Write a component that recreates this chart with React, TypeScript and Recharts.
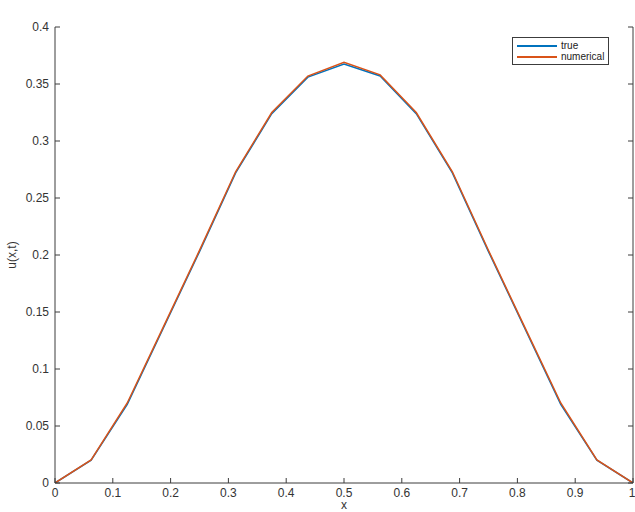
import React from "react";
import { LineChart, Line, XAxis, YAxis } from "recharts";

// grid points x = k/16, k = 0..16
const xs = [
  0, 0.0625, 0.125, 0.1875, 0.25, 0.3125, 0.375, 0.4375, 0.5, 0.5625, 0.625,
  0.6875, 0.75, 0.8125, 0.875, 0.9375, 1,
];
const trueU = [
  0, 0.02, 0.069, 0.136, 0.203, 0.272, 0.324, 0.356, 0.3675, 0.357, 0.324,
  0.272, 0.203, 0.136, 0.069, 0.02, 0,
];
const numericalU = [
  0, 0.0202, 0.0702, 0.137, 0.204, 0.273, 0.325, 0.357, 0.369, 0.358, 0.325,
  0.273, 0.204, 0.137, 0.0702, 0.0202, 0,
];
const xTicks = [0, 0.1, 0.2, 0.3, 0.4, 0.5, 0.6, 0.7, 0.8, 0.9, 1];
const yTicks = [0, 0.05, 0.1, 0.15, 0.2, 0.25, 0.3, 0.35, 0.4];
const seriesNames = ["true", "numerical"];

const title = "True vs numerical solution with extrapolation at N=M=16";

const data = xs.map((x, i) => ({ x, true: trueU[i], numerical: numericalU[i] }));

const BLUE = "#0072BD";
const ORANGE = "#D95319";
const AXIS = "#3c3c3c";
const FONT = "'Liberation Sans', Arial, Helvetica, sans-serif";
const colors = [BLUE, ORANGE];

const tickStyle = { fill: "#333", fontSize: 12, fontFamily: FONT };
const blank = () => "";

// legend drawn as an overlay so it doesn't eat into the plot area
const LegendBox = () => (
  <div
    style={{
      position: "absolute",
      top: 37,
      left: 512,
      border: `1px solid ${AXIS}`,
      background: "#fff",
      padding: "2px 4px",
      fontFamily: FONT,
      fontSize: 10,
      lineHeight: "11px",
      color: "#222",
    }}
  >
    {seriesNames.map((name, i) => (
      <div key={name} style={{ display: "flex", alignItems: "center" }}>
        <span
          style={{
            display: "inline-block",
            width: 40,
            height: 2,
            background: colors[i],
            marginRight: 4,
          }}
        />
        {name}
      </div>
    ))}
  </div>
);

export default function App() {
  return (
    <div style={{ position: "absolute", left: 0, top: 0, width: 635, height: 512, background: "#fff" }}>
      <LineChart
        width={635}
        height={512}
        data={data}
        margin={{ top: 27, right: 0, bottom: 0, left: 0 }}
      >
        <XAxis
          dataKey="x"
          type="number"
          domain={[0, 1]}
          ticks={xTicks}
          tick={tickStyle}
          tickSize={-5}
          tickMargin={10}
          height={29}
          stroke={AXIS}
          allowDataOverflow
          label={{
            content: ({ viewBox }: any) => (
              <text
                x={viewBox.x + viewBox.width / 2}
                y={509}
                textAnchor="middle"
                fontSize={12}
                fontFamily={FONT}
                fill="#333"
              >
                x
              </text>
            ),
          }}
        />
        <XAxis
          xAxisId="top"
          orientation="top"
          dataKey="x"
          type="number"
          domain={[0, 1]}
          ticks={xTicks}
          tickFormatter={blank}
          tickSize={-5}
          height={0}
          stroke={AXIS}
          allowDataOverflow
          label={{
            content: ({ viewBox }: any) => (
              <text
                x={viewBox.x + viewBox.width / 2}
                y={18}
                textAnchor="middle"
                fontSize={12}
                fontWeight="bold"
                fontFamily={FONT}
                fill="#111"
              >
                {title}
              </text>
            ),
          }}
        />
        <YAxis
          type="number"
          domain={[0, 0.4]}
          ticks={yTicks}
          tick={tickStyle}
          tickSize={-5}
          tickMargin={11}
          width={55}
          stroke={AXIS}
          allowDataOverflow
          label={{
            content: ({ viewBox }: any) => (
              <text
                x={12}
                y={viewBox.y + viewBox.height / 2}
                textAnchor="middle"
                dominantBaseline="central"
                transform={`rotate(-90, 12, ${viewBox.y + viewBox.height / 2})`}
                fontSize={12}
                fontFamily={FONT}
                fill="#333"
              >
                u(x,t)
              </text>
            ),
          }}
        />
        <YAxis
          yAxisId="right"
          orientation="right"
          type="number"
          domain={[0, 0.4]}
          ticks={yTicks}
          tickFormatter={blank}
          tickSize={-5}
          width={2}
          stroke={AXIS}
          allowDataOverflow
        />
        <Line
          dataKey="true"
          stroke={BLUE}
          strokeWidth={1.5}
          dot={false}
          isAnimationActive={false}
        />
        <Line
          dataKey="numerical"
          stroke={ORANGE}
          strokeWidth={1.5}
          dot={false}
          isAnimationActive={false}
        />
      </LineChart>
      <LegendBox />
    </div>
  );
}
